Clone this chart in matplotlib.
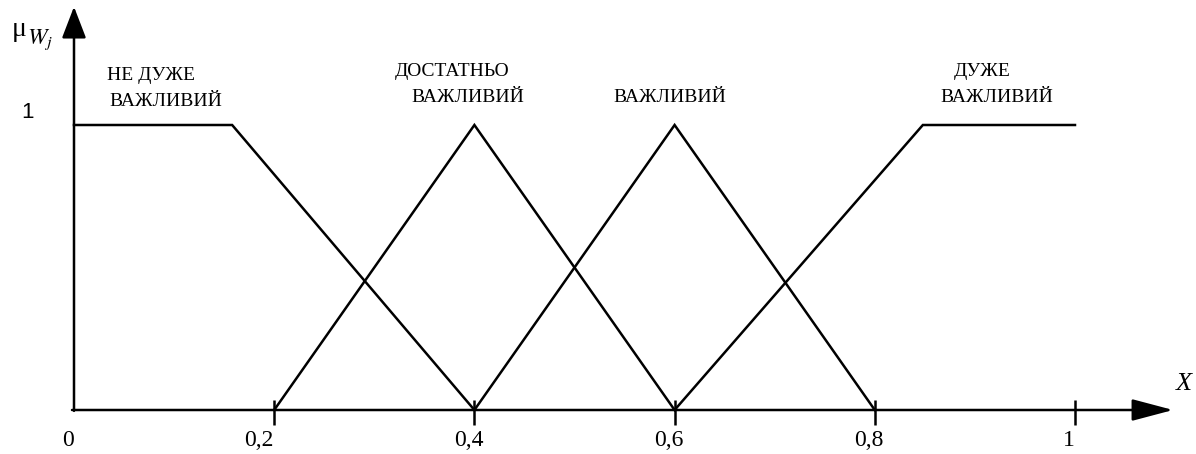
#!/usr/bin/env python3
"""Fuzzy membership functions of importance terms"""

import matplotlib
matplotlib.use('Agg')
import matplotlib.pyplot as plt

# term names and their breakpoints (x, mu)
terms = [['НЕ ДУЖЕ', 'ВАЖЛИВИЙ'], ['ДОСТАТНЬО', 'ВАЖЛИВИЙ'],
         ['ВАЖЛИВИЙ'], ['ДУЖЕ', 'ВАЖЛИВИЙ']]
term_x = [
    [0.0, 0.158, 0.4],
    [0.2, 0.4, 0.6],
    [0.4, 0.6, 0.8],
    [0.6, 0.848, 1.0],
]
term_mu = [
    [1, 1, 0],
    [0, 1, 0],
    [0, 1, 0],
    [0, 1, 1],
]
# anchor of the last line of each term label
label_x = [0.092, 0.393, 0.595, 0.922]
label_y = [1.084, 1.098, 1.098, 1.098]

xticks = [0.0, 0.2, 0.4, 0.6, 0.8, 1.0]
xticklabels = ['0', '0,2', '0,4', '0,6', '0,8', '1']

##########################################################
def main():
    plt.rcParams['mathtext.fontset'] = 'stix'
    W, H = 1196, 454
    fig = plt.figure(figsize=(W / 100, H / 100), dpi=100)
    ax = fig.add_axes([0, 0, 1, 1])
    x0, sx = 74, 1001.0
    y0, sy = 410, 285.0
    ax.set_xlim(-x0 / sx, (W - x0) / sx)
    ax.set_ylim(-(H - y0) / sy, y0 / sy)
    ax.axis('off')

    lw = 1.8
    serif = 'Liberation Serif'

    # axes with arrows
    ax.annotate('', xy=(1.098, 0), xytext=(-0.002, 0),
                arrowprops=dict(arrowstyle='-|>,head_length=1.7,head_width=0.45',
                                color='black', lw=lw, mutation_scale=15,
                                shrinkA=0, shrinkB=0))
    ax.annotate('', xy=(0, 1.415), xytext=(0, -0.003),
                arrowprops=dict(arrowstyle='-|>,head_length=1.3,head_width=0.5',
                                color='black', lw=lw, mutation_scale=15,
                                shrinkA=0, shrinkB=0))

    # ticks (none drawn at the origin)
    ax.vlines(xticks[1:], -0.053, 0.035, color='black', lw=lw)
    for i, (xt, lab) in enumerate(zip(xticks, xticklabels)):
        dx = -0.015 if i == 1 else -0.006
        ax.text(xt + dx, -0.108, lab, ha='center', va='center',
                family=serif, fontsize=17)
    ax.text(-0.046, 1.045, '1', ha='center', va='center',
            family='Liberation Sans', fontsize=16)
    ax.text(-0.062, 1.335, 'μ', ha='left', va='center',
            family=serif, fontsize=20)
    ax.text(-0.047, 1.31, '$_{W_j}$', ha='left', va='center', fontsize=24)
    ax.text(1.109, 0.091, 'X', ha='center', va='center',
            family=serif, style='italic', fontsize=19)

    # membership functions
    for xs, ms in zip(term_x, term_mu):
        ax.plot(xs, ms, color='black', lw=lw, solid_joinstyle='miter')

    for lines, lx, ly in zip(terms, label_x, label_y):
        ax.text(lx, ly, lines[-1], ha='center', va='center', family=serif,
                fontsize=14)
        if len(lines) > 1:
            ax.text(lx - 0.015, ly + 0.088, lines[0], ha='center', va='center',
                    family=serif, fontsize=14)

    fig.savefig('out.png', dpi=100)

##########################################################
if __name__ == "__main__":
    main()
